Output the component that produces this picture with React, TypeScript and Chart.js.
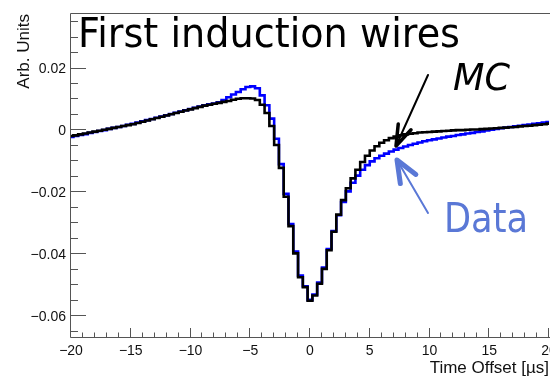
import React, { useEffect, useRef } from "react";
import { Chart, registerables } from "chart.js";

Chart.register(...registerables);

// Histogram binning (bin centres start at -20 µs, 0.4 µs wide)
const BIN_START = -20;
const BIN_WIDTH = 0.4;

// MC (black) bin contents, Arb. Units
const mcValues = [
  -0.0021, -0.0019, -0.0016, -0.0013, -0.001, -0.0007, -0.0004, -0.0001, 0.0002, 0.0005,
  0.0008, 0.0011, 0.0014, 0.0017, 0.0021, 0.0025, 0.0029, 0.0033, 0.0037, 0.0041,
  0.0045, 0.0049, 0.0053, 0.0057, 0.0061, 0.0065, 0.0069, 0.0073, 0.0077, 0.008,
  0.0083, 0.0086, 0.0089, 0.0092, 0.0096, 0.0099, 0.0101, 0.0101, 0.01, 0.0095,
  0.008, 0.0053, 0.0011, -0.005, -0.0124, -0.0217, -0.0312, -0.04, -0.0477, -0.0509,
  -0.0553, -0.0536, -0.0498, -0.045, -0.039, -0.033, -0.0275, -0.0228, -0.019, -0.0158,
  -0.013, -0.0105, -0.0085, -0.0068, -0.0054, -0.0043, -0.0035, -0.0028, -0.0023, -0.0019,
  -0.0016, -0.0014, -0.0012, -0.001, -0.0009, -0.0008, -0.0007, -0.0006, -0.0005, -0.0004,
  -0.0003, -0.0002, -0.0002, -0.0001, 0.0, 0.0, 0.0001, 0.0002, 0.0003, 0.0004,
  0.0005, 0.0006, 0.0007, 0.0008, 0.001, 0.0011, 0.0012, 0.0014, 0.0015, 0.0017,
  0.0019,
];

// Data (blue) bin contents, Arb. Units
const dataValues = [
  -0.0024, -0.0021, -0.0018, -0.0015, -0.0011, -0.0008, -0.0005, -0.0002, 0.0002, 0.0005,
  0.0008, 0.0011, 0.0015, 0.0018, 0.0022, 0.0026, 0.003, 0.0034, 0.0038, 0.0042,
  0.0046, 0.005, 0.0054, 0.0058, 0.0062, 0.0066, 0.007, 0.0074, 0.0078, 0.0081,
  0.0084, 0.0088, 0.0095, 0.0104, 0.0113, 0.0121, 0.013, 0.0137, 0.0139, 0.0133,
  0.011, 0.0078, 0.0035, -0.003, -0.0112, -0.0208, -0.0305, -0.0394, -0.0472, -0.0506,
  -0.055, -0.0533, -0.0494, -0.0446, -0.0386, -0.0328, -0.0277, -0.0234, -0.02, -0.0172,
  -0.0149, -0.013, -0.0115, -0.0103, -0.0093, -0.0085, -0.0078, -0.0071, -0.0065, -0.006,
  -0.0055, -0.005, -0.0046, -0.0042, -0.0038, -0.0035, -0.0032, -0.0029, -0.0026, -0.0023,
  -0.0021, -0.0018, -0.0016, -0.0013, -0.0011, -0.0008, -0.0006, -0.0003, -0.0001, 0.0002,
  0.0004, 0.0006, 0.0008, 0.001, 0.0012, 0.0014, 0.0016, 0.0018, 0.002, 0.0022,
  0.0024,
];

const xMajorTicks = [-20, -15, -10, -5, 0, 5, 10, 15, 20];
const xTickLabels = ["\u221220", "\u221215", "\u221210", "\u22125", "0", "5", "10", "15", "20"];
const yMajorTicks = [-0.06, -0.04, -0.02, 0, 0.02];
const yTickLabels = ["\u22120.06", "\u22120.04", "\u22120.02", "0", "0.02"];

const X_TITLE = "Time Offset [\u00b5s]";
const Y_TITLE = "Arb. Units";
const PLOT_TEXT = "First induction wires";
const MC_TEXT = "MC";
const DATA_TEXT = "Data";

const AXIS_COLOR = "#555555";
const LABEL_FONT = "'Liberation Sans', Arial, sans-serif";
const NOTE_FONT = "'DejaVu Sans', sans-serif";
const DATA_COLOR = "#5a78d6";

function fitText(
  ctx: CanvasRenderingContext2D,
  text: string,
  x: number,
  baseline: number,
  targetW: number,
  font: string,
  color: string
) {
  ctx.save();
  ctx.font = font;
  ctx.fillStyle = color;
  ctx.textAlign = "left";
  ctx.textBaseline = "alphabetic";
  const w = ctx.measureText(text).width;
  ctx.translate(x, baseline);
  ctx.scale(targetW / w, 1);
  ctx.fillText(text, 0, 0);
  ctx.restore();
}

function arrow(
  ctx: CanvasRenderingContext2D,
  x0: number,
  y0: number,
  x1: number,
  y1: number,
  color: string,
  shaftW: number,
  headW: number,
  headLen: number,
  headHalf: number
) {
  const dx = x0 - x1;
  const dy = y0 - y1;
  const L = Math.hypot(dx, dy);
  const ux = dx / L;
  const uy = dy / L;
  const px = -uy;
  const py = ux;
  ctx.save();
  ctx.strokeStyle = color;
  ctx.lineCap = "round";
  ctx.lineJoin = "round";
  ctx.lineWidth = shaftW;
  ctx.beginPath();
  ctx.moveTo(x0, y0);
  ctx.lineTo(x1, y1);
  ctx.stroke();
  ctx.lineWidth = headW;
  ctx.beginPath();
  ctx.moveTo(x1 + ux * headLen + px * headHalf, y1 + uy * headLen + py * headHalf);
  ctx.lineTo(x1, y1);
  ctx.lineTo(x1 + ux * headLen - px * headHalf, y1 + uy * headLen - py * headHalf);
  ctx.stroke();
  ctx.restore();
}

const rootAxesPlugin = {
  id: "rootAxes",
  afterDraw(chart: any) {
    const ctx: CanvasRenderingContext2D = chart.ctx;
    const a = chart.chartArea;
    const xS = chart.scales.x;
    const yS = chart.scales.y;
    ctx.save();
    ctx.strokeStyle = AXIS_COLOR;
    ctx.lineWidth = 1;
    // frame: left, bottom, top
    ctx.beginPath();
    ctx.moveTo(a.left - 0.5, a.top + 0.5);
    ctx.lineTo(a.left - 0.5, a.bottom + 0.5);
    ctx.lineTo(a.right + 2, a.bottom + 0.5);
    ctx.moveTo(a.left - 0.5, a.top + 0.5);
    ctx.lineTo(a.right + 2, a.top + 0.5);
    ctx.stroke();

    // y ticks (major every 0.02, minor every 0.005)
    ctx.beginPath();
    for (let i = -13; i <= 7; i++) {
      const v = i * 0.005;
      const y = Math.round(yS.getPixelForValue(v)) + 0.5;
      if (y < a.top || y > a.bottom) continue;
      const major = i % 4 === 0;
      ctx.moveTo(a.left - 0.5, y);
      ctx.lineTo(a.left + (major ? 15 : 7), y);
    }
    // x ticks (major every 5, minor every 1)
    for (let v = -20; v <= 20; v++) {
      const x = Math.round(xS.getPixelForValue(v)) - 0.5;
      const major = v % 5 === 0;
      ctx.moveTo(x, a.bottom);
      ctx.lineTo(x, a.bottom - (major ? 9 : 4.5));
    }
    ctx.stroke();

    // tick labels
    ctx.fillStyle = "#111";
    ctx.font = `14px ${LABEL_FONT}`;
    ctx.textBaseline = "alphabetic";
    ctx.textAlign = "right";
    yMajorTicks.forEach((v, i) => {
      const y = yS.getPixelForValue(v);
      ctx.fillText(yTickLabels[i], 66, y + 5.5);
    });
    ctx.textAlign = "center";
    xMajorTicks.forEach((v, i) => {
      const x = xS.getPixelForValue(v);
      ctx.fillText(xTickLabels[i], x, 354.5);
    });

    // axis titles
    ctx.font = `17px ${LABEL_FONT}`;
    ctx.textAlign = "right";
    ctx.fillText(X_TITLE, 549, 373);
    ctx.save();
    ctx.translate(29, 14);
    ctx.rotate(-Math.PI / 2);
    ctx.textAlign = "right";
    ctx.fillText(Y_TITLE, 0, 0);
    ctx.restore();

    // annotations
    fitText(ctx, PLOT_TEXT, 78, 47, 382, `40px ${NOTE_FONT}`, "#000");
    fitText(ctx, MC_TEXT, 453, 90, 57, `italic 38px ${NOTE_FONT}`, "#000");
    fitText(ctx, DATA_TEXT, 444, 232, 84, `41px ${NOTE_FONT}`, DATA_COLOR);
    arrow(ctx, 428, 75, 396, 146, "#000", 2, 3.5, 21, 7);
    arrow(ctx, 428, 213, 397, 160, DATA_COLOR, 2, 5, 22, 9);
    ctx.restore();
  },
};

export default function App() {
  const ref = useRef<HTMLCanvasElement | null>(null);

  useEffect(() => {
    const canvas = ref.current;
    if (!canvas) return;
    const centers = mcValues.map((_, i) => BIN_START + i * BIN_WIDTH);
    const chart = new Chart(canvas, {
      type: "line",
      data: {
        datasets: [
          {
            label: "MC",
            data: mcValues.map((v, i) => ({ x: centers[i], y: v })),
            borderColor: "#000000",
            borderWidth: 2.6,
            pointRadius: 0,
            stepped: "middle",
            fill: false,
            borderJoinStyle: "miter",
          },
          {
            label: "Data",
            data: dataValues.map((v, i) => ({ x: centers[i], y: v })),
            borderColor: "#0000ff",
            borderWidth: 2.6,
            pointRadius: 0,
            stepped: "middle",
            fill: false,
            borderJoinStyle: "miter",
          },
        ],
      },
      options: {
        responsive: false,
        animation: false,
        events: [],
        layout: { padding: { left: 71, top: 13, right: 1, bottom: 40 } },
        plugins: {
          legend: { display: false },
          tooltip: { enabled: false },
          title: { display: false },
        },
        scales: {
          x: { type: "linear", min: -20, max: 20, display: false },
          y: { type: "linear", min: -0.067, max: 0.0376, display: false },
        },
      },
      plugins: [rootAxesPlugin],
    } as any);
    return () => chart.destroy();
  }, []);

  return (
    <div style={{ position: "absolute", left: 0, top: 0, width: 550, height: 377, background: "#fff" }}>
      <canvas ref={ref} width={550} height={377} style={{ display: "block", width: 550, height: 377 }} />
    </div>
  );
}
